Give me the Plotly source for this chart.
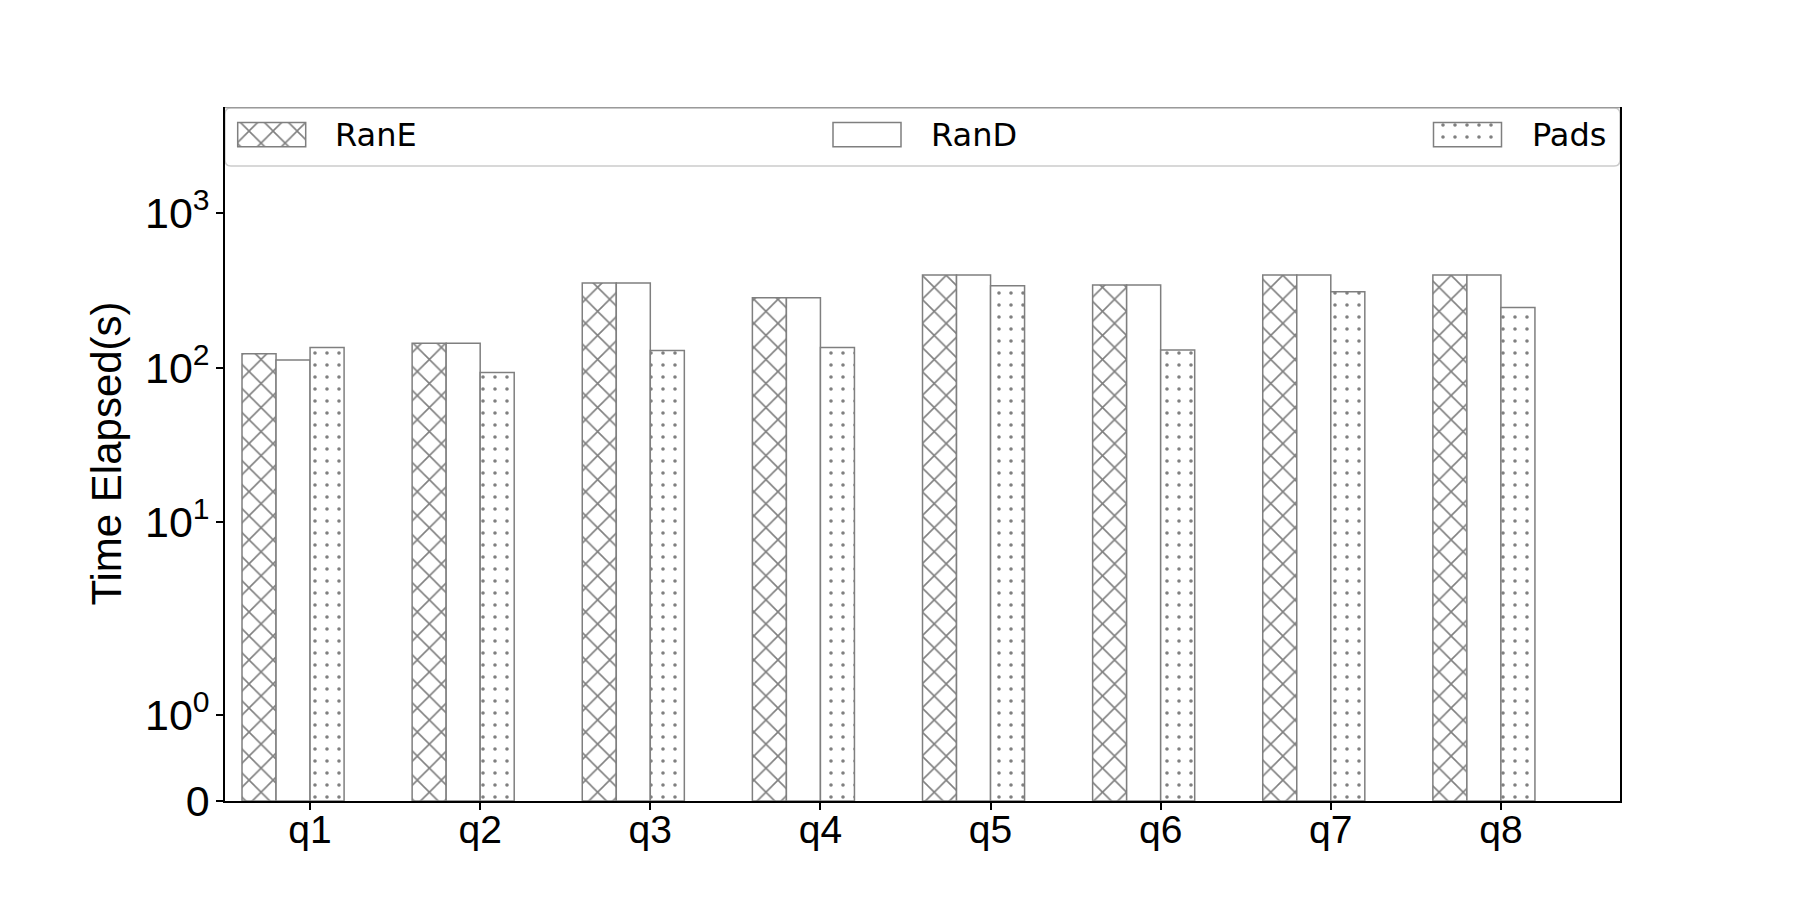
import math
import plotly.graph_objects as go

# ---------------- data ----------------
categories = ["q1", "q2", "q3", "q4", "q5", "q6", "q7", "q8"]
rane = [123, 144, 354, 284, 399, 343, 399, 399]
rand = [112, 144, 354, 284, 399, 343, 399, 399]
pads = [135, 93, 129, 135, 340, 130, 311, 245]
series_names = ["RanE", "RanD", "Pads"]
ytick_values = [0, 1, 10, 100, 1000]
ytick_labels = ["0", "10<sup>0</sup>", "10<sup>1</sup>", "10<sup>2</sup>", "10<sup>3</sup>"]
y_title = "Time Elapsed(s)"

# ---------------- symlog scale (linthresh=2, base 10) ----------------
LINTHRESH = 2.0
LINSCALE_ADJ = 1.0 / (1.0 - 1.0 / 10.0)


def symlog(v):
    if v <= LINTHRESH:
        return v * LINSCALE_ADJ
    return LINTHRESH * (LINSCALE_ADJ + math.log10(v / LINTHRESH))


EDGE = "#7f7f7f"
HATCH = "#808080"
patterns = [
    dict(shape="x", fgcolor=HATCH, bgcolor="white", size=17, solidity=0.18, fillmode="replace"),
    dict(shape="", fgcolor=HATCH, bgcolor="white"),
    dict(shape=".", fgcolor=HATCH, bgcolor="white", size=12, solidity=0.07, fillmode="replace"),
]
offsets = [-0.4, -0.2, 0.0]
BAR_W = 0.2

fig = go.Figure()
for name, vals, pat, off in zip(series_names, [rane, rand, pads], patterns, offsets):
    fig.add_trace(go.Bar(
        x=categories,
        y=[symlog(v) for v in vals],
        customdata=vals,
        name=name,
        width=BAR_W,
        offset=off,
        marker=dict(color="white", pattern=pat, line=dict(color=EDGE, width=1.5)),
        hovertemplate="%{x}: %{customdata}s<extra>" + name + "</extra>",
        showlegend=False,
    ))

# ---------------- legend (drawn on a pixel-scaled overlay axis) ----------------
W, H = 1800, 900
L, R, T, B = 225, 180, 107, 99
px_left, px_right = L, W - R
px_top, px_bot = T, H - B

legend_patch_cx = [271.7, 867.0, 1467.5]
legend_text_x = [333, 929, 1530]
patch_w, patch_top, patch_h = 68, 122.5, 24.3
legend_text_y = 134.5

for name, pat, cx in zip(series_names, patterns, legend_patch_cx):
    fig.add_trace(go.Bar(
        x=[cx], y=[patch_h], base=[patch_top], width=patch_w,
        xaxis="x2", yaxis="y2",
        marker=dict(color="white", pattern=pat, line=dict(color=EDGE, width=1.5)),
        hoverinfo="skip", showlegend=False,
    ))

for name, tx in zip(series_names, legend_text_x):
    fig.add_annotation(
        x=tx, y=legend_text_y, xref="x2", yref="y2", text=name, showarrow=False,
        xanchor="left", yanchor="middle",
        font=dict(family="DejaVu Sans", size=32, color="black"),
    )

fl, fr, ft, fb, rr = px_left, px_right, px_top + 1, 166, 6
frame_path = (
    f"M {fl+rr},{ft} L {fr-rr},{ft} Q {fr},{ft} {fr},{ft+rr} L {fr},{fb-rr} "
    f"Q {fr},{fb} {fr-rr},{fb} L {fl+rr},{fb} Q {fl},{fb} {fl},{fb-rr} "
    f"L {fl},{ft+rr} Q {fl},{ft} {fl+rr},{ft} Z"
)
fig.add_shape(type="path", path=frame_path, xref="x2", yref="y2",
              fillcolor="white", line=dict(color="#cccccc", width=1.5), layer="below")
fig.add_shape(type="line", x0=px_left, x1=px_right, y0=px_top + 0.5, y1=px_top + 0.5,
              xref="x2", yref="y2", line=dict(color="#9a9a9a", width=1.6), layer="below")

# y-axis title
fig.add_annotation(
    x=(105.6 - L) / (W - L - R), y=0.5, xref="paper", yref="paper",
    text=y_title, textangle=-90, showarrow=False, xanchor="center", yanchor="middle",
    font=dict(family="Liberation Sans", size=42, color="black"),
)

fig.update_layout(
    width=W, height=H,
    margin=dict(l=L, r=R, t=T, b=B, pad=0),
    paper_bgcolor="white", plot_bgcolor="white",
    barmode="overlay",
    showlegend=False,
    xaxis=dict(
        type="category", range=[-0.5, 7.7],
        showline=True, linecolor="black", linewidth=1.6, mirror=False,
        ticks="outside", ticklen=7, tickwidth=1.5, tickcolor="black",
        showgrid=False, zeroline=False, automargin=False,
        ticklabelstandoff=-14,
        tickfont=dict(family="Liberation Sans", size=39, color="black"),
    ),
    yaxis=dict(
        range=[0, 9.0],
        tickmode="array", tickvals=[symlog(v) for v in ytick_values], ticktext=ytick_labels,
        showline=True, linecolor="black", linewidth=1.6, mirror=True,
        ticks="outside", ticklen=7, tickwidth=1.5, tickcolor="black",
        showgrid=False, zeroline=False, automargin=False,
        ticklabelstandoff=-2,
        tickfont=dict(family="Liberation Sans", size=43, color="black"),
    ),
    xaxis2=dict(overlaying="x", anchor="y2", range=[px_left, px_right], visible=False, fixedrange=True),
    yaxis2=dict(overlaying="y", anchor="x2", range=[px_bot, px_top], visible=False, fixedrange=True),
)

fig.write_html("out.html")
